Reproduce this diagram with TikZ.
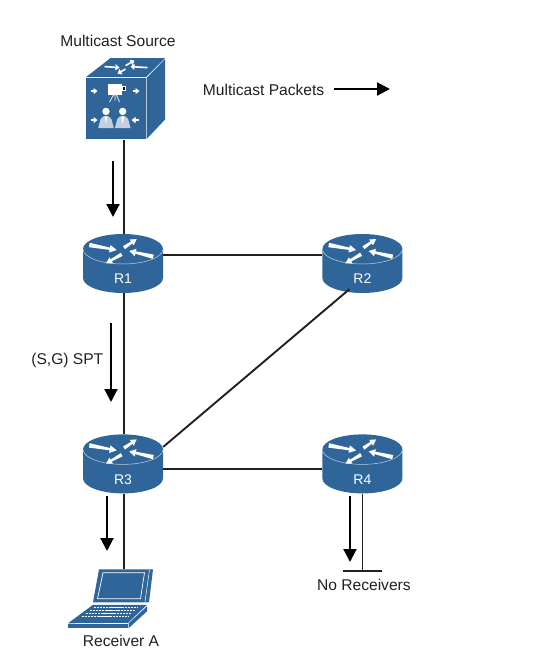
\documentclass[tikz,border=0pt]{standalone}
\usepackage{fontspec}
\setmainfont{Liberation Sans}
\usetikzlibrary{positioning,arrows.meta}
\definecolor{ciscoblue}{HTML}{2F6598}
\definecolor{personblue}{HTML}{C3CFE0}
\definecolor{inkdark}{HTML}{231F20}

\newcommand{\routerglyph}{
    \begin{scope}[shift={(path picture bounding box.center)}]
        \fill[ciscoblue] (-40,14.5) -- (-40,-14.5) arc[start angle=180, end angle=360, x radius=40, y radius=15] -- (40,14.5) -- cycle;
        \fill[ciscoblue] (0,14.5) ellipse[x radius=40, y radius=15];
        \draw[white!70!ciscoblue, line width=0.5pt] (-40,14.5) arc[start angle=180, end angle=360, x radius=40, y radius=15];
        \fill[white] (-33.3,20.7) -- (-13,15.9) -- (-12.5,18.5) -- (-6.3,13.5) -- (-13.9,11) -- (-13.4,13.6) -- (-34.1,16.3) -- cycle;
        \fill[white] (0,17.3) -- (8.1,22.1) -- (6.8,24) -- (13.7,24.5) -- (10.7,18.2) -- (9.4,20.1) -- (2,14.3) -- cycle;
        \fill[white] (30.8,8.9) -- (12.9,12.2) -- (13.5,14.7) -- (6.3,12.5) -- (11.7,7.3) -- (12.3,9.8) -- (29.8,4.7) -- cycle;
        \fill[white] (-2.2,10.8) -- (-12.4,4.2) -- (-13.5,6.2) -- (-17,0.2) -- (-10,0.2) -- (-11.2,2.2) -- (-0.4,7.6) -- cycle;
    \end{scope}
}
\newcommand{\cubeglyph}{
    \begin{scope}[shift={(path picture bounding box.center)}]
        % faces
        \fill[ciscoblue] (-39.5,-40.5) rectangle (20,20.5);
        \fill[ciscoblue] (-39.5,21.5) -- (-15,40.5) -- (39.5,40.5) -- (20.5,21.5) -- cycle;
        \fill[ciscoblue] (21,20.5) -- (39.5,39.5) -- (39.5,-21) -- (21,-40.5) -- cycle;
        % top arrows
        \draw[smallarrow] (-21,32) -- (-6,31);
        \draw[smallarrow] (0,33) -- (9,38);
        \draw[smallarrow] (22,31) -- (5,32);
        \draw[smallarrow] (0,29.5) -- (-8,25);
        % camera
        \fill[white] (-17.8,3.8) rectangle (-3.8,14.5);
        \draw[white, fill=black, line width=0.8pt] (-3.4,8.5) rectangle (-0.4,11.8);
        \draw[white, line width=0.7pt] (-12,3.8) -- (-16,-3.5) (-9,3.8) -- (-6,-3.5) (-10.5,3.8) -- (-10.5,-2);
        % people
        \foreach \px in {-19.5,-2.8}{
            \fill[white] (\px,-12.8) circle[radius=3.7];
            \fill[personblue] (\px-7.8,-29.5) -- (\px-5.5,-20.5) -- (\px-2.8,-17.8) -- (\px+2.8,-17.8) -- (\px+5.5,-20.5) -- (\px+7.8,-29.5) -- cycle;
            \fill[white] (\px-1.6,-17.8) -- (\px+1.6,-17.8) -- (\px,-25) -- cycle;
        }
        % side arrows
        \draw[smallarrow] (-34.5,7.5) -- (-28,7.5);
        \draw[smallarrow] (7,7.5) -- (14,7.5);
        \draw[smallarrow] (-35,-21.5) -- (-28,-21.5);
        \draw[smallarrow] (13,-21.5) -- (6,-21.5);
    \end{scope}
}
\newcommand{\laptopglyph}{
    \begin{scope}[shift={(path picture bounding box.center)}]
        % screen
        \fill[ciscoblue] (-12.5,29.5) -- (41.5,29.5) -- (37.5,-3.5) -- (-18.5,-3.5) -- cycle;
        \draw[white, line width=0.7pt] (-8.5,26) -- (33,26) -- (29,0) -- (-14,0) -- cycle;
        \draw[white, line width=0.5pt] (38,29) -- (33.5,-3);
        % base
        \fill[ciscoblue] (-18.5,-6) -- (35.5,-6) -- (16.5,-24) -- (-43.5,-24.5) -- cycle;
        \fill[ciscoblue] (-43.5,-25.5) rectangle (16,-29.5);
        \fill[ciscoblue] (17,-24.5) -- (35.5,-7.5) -- (35.5,-12.5) -- (17,-29.5) -- cycle;
        % keys
        \foreach \ky/\kl/\kr in {-9/-18/26, -12/-22/23, -15/-26/20, -18/-30/17}{
            \draw[white, line width=0.9pt, dash pattern=on 2.5pt off 0.6pt] (\kl,\ky) -- (\kr,\ky);
        }
    \end{scope}
}

\tikzset{
    smallarrow/.style={white, line width=1.6pt, -{Triangle[length=4pt, width=6pt]}},
    router/.style={minimum width=80pt, minimum height=59pt, inner sep=0pt, path picture={\routerglyph},
        label={[routertext]center:#1}},
    routertext/.style={text=white, font=\fontsize{14}{16}\selectfont, yshift=-15.5pt},
    sourcecube/.style={minimum width=80pt, minimum height=82pt, inner sep=0pt, path picture={\cubeglyph}},
    laptop/.style={minimum width=88pt, minimum height=60pt, inner sep=0pt, path picture={\laptopglyph}},
    caption/.style={text=inkdark, inner sep=0pt, font=\fontsize{15.6}{18}\selectfont},
    link/.style={inkdark, line width=1.9pt},
    flow/.style={black, line width=2.1pt, -{Triangle[length=13pt, width=13pt]}},
}

\begin{document}
\begin{tikzpicture}[x=1pt, y=1pt, node distance=141pt and 159pt]
        \useasboundingbox (0,0) rectangle (555,-656);

        % NODES
        % -----------------

        \node[router=R1] (R1) at (123,-263.5) {};
        \node[router=R2, right=of R1] (R2) {};
        \node[router=R3, below=of R1] (R3) {};
        \node[router=R4, right=of R3] (R4) {};
        \node[sourcecube, above=94pt of R1, xshift=2.5pt] (source) {};
        \node[laptop, below=75pt of R3, xshift=-11.5pt] (receiver) {};

        \node[caption, above=11pt of source, xshift=-7.5pt] (source_text) {Multicast Source};
        \node[caption, right=37pt of source, yshift=9pt] (packets_text) {Multicast Packets};
        \node[caption, left=20pt of R3.north west, anchor=center, xshift=4.5pt, yshift=74pt] (spt_text) {(S,G) SPT};
        \node[caption, below=6pt of receiver, xshift=9.5pt] (receiver_text) {Receiver A};

        \coordinate[below=77pt of R4] (stop);
        \node[caption, below=8pt of stop, xshift=1.5pt] (none_text) {No Receivers};

        % ARROWS
        % -----------------

        \coordinate (packets_start) at (334,-89);
        \coordinate (packets_end) at (390,-89);
        \coordinate (source_start) at (113,-161);
        \coordinate (source_end) at (113,-217);
        \coordinate (spt_start) at (111,-323);
        \coordinate (spt_end) at (111,-402);
        \coordinate (receiver_start) at (107,-496);
        \coordinate (receiver_end) at (107,-551);
        \coordinate (none_start) at (350,-496);
        \coordinate (none_end) at (350,-562);

        \draw[flow] (packets_start) -- (packets_end);
        \draw[flow] (source_start) -- (source_end);
        \draw[flow] (spt_start) -- (spt_end);
        \draw[flow] (receiver_start) -- (receiver_end);
        \draw[flow] (none_start) -- (none_end);

        % EDGES
        % -----------------
        \draw[link] ([xshift=-1.5pt]source.south) -- ([xshift=-1.5pt]source.south |- R1.north);
        \draw[link] ([yshift=8.5pt]R1.east) -- ([yshift=8.5pt]R2.west);
        \draw[link] ([xshift=1pt]R1.south) -- ([xshift=1pt]R3.north);
        \draw[link] ([xshift=-13pt, yshift=4pt]R2.south) -- ([yshift=17pt]R3.east);
        \draw[link] ([yshift=-5.5pt]R3.east) -- ([yshift=-5.5pt]R4.west);
        \draw[link] ([xshift=1pt]R3.south) -- ([xshift=1pt]R3.south |- receiver.north);
        \draw[link, line width=1.1pt] (R4.south) -- (stop);
        \draw[link] ([xshift=-19.5pt]stop) -- ([xshift=19.5pt]stop);

    \end{tikzpicture}
\end{document}
